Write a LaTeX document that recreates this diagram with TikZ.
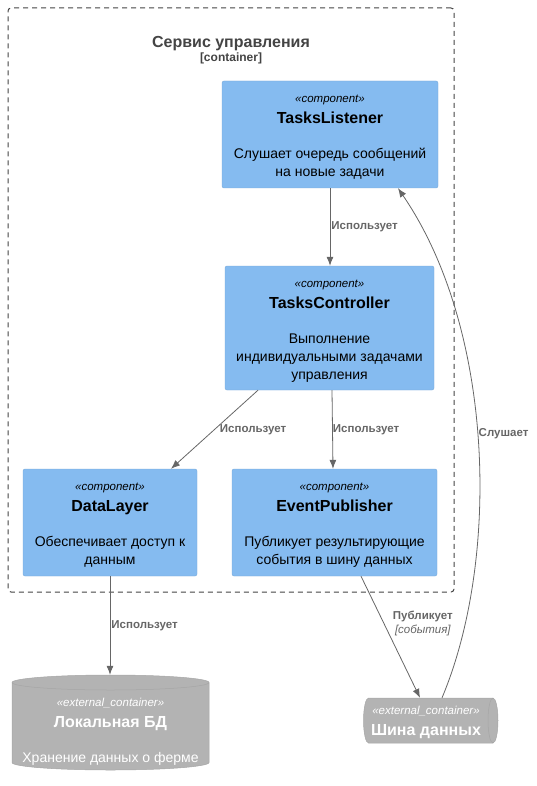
\documentclass[tikz,border=0pt]{standalone}
\usepackage{fontspec}
\setmainfont{Liberation Sans}
\usetikzlibrary{arrows.meta}
\newcommand\stereo[2][13pt]{\rule{0pt}{#1}{\itshape\fontsize{11.5}{13}\selectfont «#2»}}
\newcommand\cname[1]{{\bfseries\fontsize{16}{19}\selectfont #1}}
\tikzset{
    comp/.style={draw=cmpd,fill=cmp,rounded corners=2pt,align=center,inner sep=0pt,text=black,font=\fontsize{14}{18}\selectfont},
    ext/.style={align=center,inner sep=0pt,text=white,font=\fontsize{14}{18}\selectfont},
    extshape/.style={fill=extc,draw=extd,line width=0.5pt},
    bnd/.style={draw=bndc,dash pattern=on 5pt off 4pt,rounded corners=3pt,line width=1pt},
    rel/.style={draw=relc,line width=0.8pt,-{Latex[length=9pt,width=7pt]}},
    lbl/.style={text=relc,inner sep=1pt,align=center,font=\bfseries\fontsize{11.5}{14}\selectfont}
}

\begin{document}
\begin{tikzpicture}[x=1pt,y=1pt]
    \definecolor{cmp}{HTML}{85BBF0}
    \definecolor{cmpd}{HTML}{78A8D8}
    \definecolor{extc}{HTML}{B3B3B3}
    \definecolor{extd}{HTML}{A6A6A6}
    \definecolor{relc}{HTML}{666666}
    \definecolor{bndc}{HTML}{444444}

    \useasboundingbox (0,0) rectangle (536,-786);

    % boundary
    \node[bnd,minimum width=446pt,minimum height=584pt] (svc) at (231,-300) {};
    \node[font=\bfseries\fontsize{12}{14}\selectfont,text=bndc,align=center] (svct) at (231,-49.75)
        {{\fontsize{16}{19}\selectfont Сервис управления}\\ {[container]}};

    % components
    \node[comp,minimum width=216pt,minimum height=107pt] (listener) at (330,-134.5)
        {\stereo{component}\\[3pt] \cname{TasksListener}\\[17pt] Слушает очередь сообщений\\ на новые задачи};
    \node[comp,minimum width=209pt,minimum height=124pt] (controller) at (329.5,-328)
        {\stereo{component}\\[3pt] \cname{TasksController}\\[17pt] Выполнение\\ индивидуальными задачами\\ управления};
    \node[comp,minimum width=174pt,minimum height=107pt] (datalayer) at (110,-522.5)
        {\stereo{component}\\[3pt] \cname{DataLayer}\\[17pt] Обеспечивает доступ к\\ данным};
    \node[comp,minimum width=205pt,minimum height=107pt] (publisher) at (334.5,-522.5)
        {\stereo{component}\\[3pt] \cname{EventPublisher}\\[17pt] Публикует результирующие\\ события в шину данных};

    % external containers
    \fill[extshape] (12,-682.5) arc[start angle=180,end angle=0,x radius=98.5,y radius=7.5]
        -- (209,-762.5) arc[start angle=0,end angle=-180,x radius=98.5,y radius=7.5] -- cycle;
    \draw[extd,line width=0.5pt] (12,-682.5) arc[start angle=180,end angle=360,x radius=98.5,y radius=7.5];
    \node[ext,minimum width=197pt,minimum height=95pt] (db) at (110.5,-722.5)
        {\stereo[26pt]{external\_container}\\[3pt] \cname{Локальная БД}\\[17pt] Хранение данных о ферме};

    \fill[extshape] (368.5,-698) -- (493,-698) arc[start angle=90,end angle=-90,x radius=5,y radius=22.5]
        -- (368.5,-743) arc[start angle=270,end angle=90,x radius=5,y radius=22.5] -- cycle;
    \draw[extd,line width=0.5pt] (493,-698) arc[start angle=90,end angle=270,x radius=5,y radius=22.5];
    \node[ext,minimum width=120pt,minimum height=45pt] (bus) at (426,-720.5)
        {\stereo{external\_container}\\[3pt] \cname{Шина данных}};

    % relations
    \draw[rel] (listener.south) -- (listener.south |- controller.north)
        node[lbl,pos=.5,anchor=west] {Использует};
    \draw[rel] ([xshift=-71.5pt]controller.south) -- ([xshift=61pt]datalayer.north)
        node[lbl,pos=.5,anchor=west,xshift=4pt] {Использует};
    \draw[rel] ([xshift=2.5pt]controller.south) -- ([xshift=-1.5pt]publisher.north)
        node[lbl,pos=.5,anchor=west,xshift=-1pt] {Использует};
    \draw[rel] (datalayer.south) -- (datalayer.south |- db.north)
        node[lbl,pos=.5,anchor=west] {Использует};
    \draw[rel] ([xshift=26.5pt]publisher.south) -- ([xshift=-6pt]bus.north)
        node[lbl,pos=.45,anchor=west,xshift=4pt,yshift=7pt] {Публикует\\ {\mdseries\itshape [события]}};
    \draw[rel] ([xshift=16pt]bus.north) .. controls (500,-560) and (495,-330) .. ([xshift=68pt]listener.south)
        node[lbl,pos=.52,anchor=west] {Слушает};
\end{tikzpicture}
\end{document}
